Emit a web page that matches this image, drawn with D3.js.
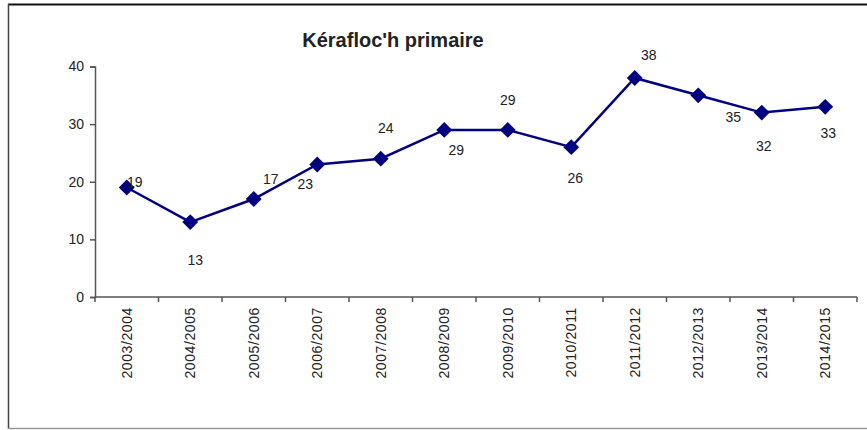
<!DOCTYPE html>
<html lang="fr">
<head>
	<meta charset="UTF-8">
	<title>Kérafloc'h primaire</title>
	<script src="https://cdn.jsdelivr.net/npm/d3@7"></script>
	<style>
		body { margin: 0; background: #fff; }
		text { font-family: Arial, "Liberation Sans", sans-serif; fill: #222; }
	</style>
</head>
<body>
	<div id="container"></div>
	<script>
		// data
		var seasons = ["2003/2004", "2004/2005", "2005/2006", "2006/2007", "2007/2008", "2008/2009",
			"2009/2010", "2010/2011", "2011/2012", "2012/2013", "2013/2014", "2014/2015"];
		var values = [19, 13, 17, 23, 24, 29, 29, 26, 38, 35, 32, 33];
		var yTicks = [0, 10, 20, 30, 40];

		// where each value label sits relative to its point (Excel placed them by hand)
		var labelDx = [8, 5, 17, -12, 5, 12, 0, 4, 14, 35, 2, 3];
		var labelDy = [-1, 43, -15, 25, -26, 25, -25, 36, -18, 27, 38, 31];

		var width = 867, height = 430;
		var svg = d3.select("#container").append("svg")
			.attr("width", width)
			.attr("height", height);

		// frame
		svg.append("line").attr("x1", 8).attr("y1", 4.5).attr("x2", width).attr("y2", 4.5)
			.attr("stroke", "#111").attr("stroke-width", 2);
		svg.append("line").attr("x1", 8.5).attr("y1", 4).attr("x2", 8.5).attr("y2", 429)
			.attr("stroke", "#444").attr("stroke-width", 1.5);
		svg.append("line").attr("x1", 8).attr("y1", 428.5).attr("x2", width).attr("y2", 428.5)
			.attr("stroke", "#999").attr("stroke-width", 1.5);

		var x = d3.scaleBand().domain(seasons).range([95, 857]);
		var y = d3.scaleLinear().domain([0, 40]).range([297, 66.5]);

		svg.append("text")
			.attr("x", 393).attr("y", 47)
			.attr("text-anchor", "middle")
			.style("font-size", "20px").style("font-weight", "bold")
			.text("Kérafloc'h primaire");

		// y axis
		var yAxis = svg.append("g")
			.attr("transform", "translate(95,0)")
			.call(d3.axisLeft(y).tickValues(yTicks).tickSize(5).tickPadding(6));
		yAxis.selectAll("path, line").attr("stroke", "#555").attr("stroke-width", 1.5);
		yAxis.selectAll("text").style("font-size", "14px").style("font-family", "Arial, 'Liberation Sans', sans-serif").attr("fill", "#222");

		// x axis: ticks on category boundaries
		var xg = svg.append("g").attr("transform", "translate(0," + y(0) + ")");
		xg.append("line")
			.attr("x1", x.range()[0]).attr("x2", x.range()[1])
			.attr("stroke", "#555").attr("stroke-width", 1.5);
		xg.selectAll(".tick").data(seasons.concat(["end"]))
			.enter().append("line")
				.attr("x1", (d, i) => x.range()[0] + i * x.step())
				.attr("x2", (d, i) => x.range()[0] + i * x.step())
				.attr("y1", 0).attr("y2", 5)
				.attr("stroke", "#555").attr("stroke-width", 1.5);
		xg.selectAll(".xlabel").data(seasons)
			.enter().append("text")
				.attr("transform", d => "translate(" + (x(d) + x.bandwidth() / 2 + 5) + ",10) rotate(-90)")
				.attr("text-anchor", "end")
				.style("font-size", "14px")
				.style("letter-spacing", "0.6px")
				.text(d => d);

		// series
		var cx = (d, i) => x(seasons[i]) + x.bandwidth() / 2;
		var line = d3.line().x(cx).y(d => y(d));
		svg.append("path").datum(values)
			.attr("d", line)
			.attr("fill", "none")
			.attr("stroke", "#000080")
			.attr("stroke-width", 2.5);

		svg.selectAll(".marker").data(values)
			.enter().append("path")
				.attr("d", d3.symbol().type(d3.symbolDiamond2).size(160))
				.attr("transform", (d, i) => "translate(" + cx(d, i) + "," + y(d) + ")")
				.attr("fill", "#000080");

		svg.selectAll(".vlabel").data(values)
			.enter().append("text")
				.attr("x", (d, i) => cx(d, i) + labelDx[i])
				.attr("y", (d, i) => y(d) + labelDy[i])
				.attr("text-anchor", "middle")
				.style("font-size", "14px")
				.text(d => d);
	</script>
</body>
</html>
